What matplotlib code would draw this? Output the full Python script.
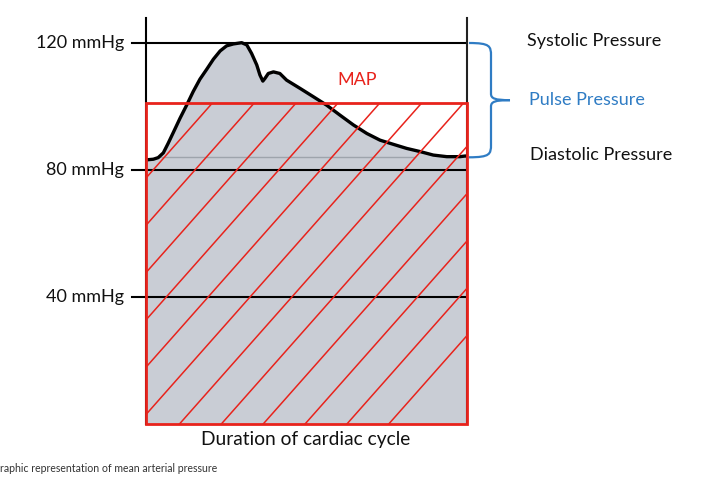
import numpy as np
import matplotlib
matplotlib.use("Agg")
import matplotlib.pyplot as plt
from matplotlib.patches import Rectangle, PathPatch
from matplotlib.path import Path

# ---- data ----
t_wave = [0.0, 0.002, 0.023, 0.038, 0.054, 0.069, 0.085, 0.106, 0.127, 0.147, 0.168,
          0.189, 0.210, 0.231, 0.251, 0.272, 0.298, 0.314, 0.329, 0.345, 0.355,
          0.364, 0.371, 0.381, 0.397, 0.417, 0.438, 0.480, 0.521, 0.563, 0.604,
          0.646, 0.688, 0.729, 0.770, 0.812, 0.854, 0.895, 0.937, 0.978, 0.994, 1.0]
p_wave = [83.2, 83.2, 83.4, 83.9, 85.4, 88.4, 91.8, 96.3, 100.5, 104.7, 108.6,
          111.7, 114.9, 117.5, 119.1, 119.7, 120.1, 119.4, 116.7, 113.1, 109.9,
          108.0, 108.9, 110.4, 110.9, 110.4, 108.3, 105.7, 103.1, 100.4, 97.3,
          94.2, 91.5, 89.4, 88.1, 86.8, 85.8, 84.7, 84.2, 84.2, 84.4, 84.4]
map_value = 101.0
systolic = 120
diastolic = 84
tick_values = [120, 80, 40]
tick_labels = ["120 mmHg", "80 mmHg", "40 mmHg"]

W, H = 708, 478
fig = plt.figure(figsize=(W / 100, H / 100), dpi=100)
plt.rcParams['font.family'] = ['Lato', 'DejaVu Sans']

x0, x1, y0, ytop = 146, 467, 424, 18
ax = fig.add_axes([x0 / W, 1 - y0 / H, (x1 - x0) / W, (y0 - ytop) / H])
sc = (y0 - 43) / 120.0
ymax = (y0 - ytop) / sc
ax.set_xlim(0, 1)
ax.set_ylim(0, ymax)
ax.axis('off')

# gray area under waveform
ax.fill_between(t_wave, 0, p_wave, color='#c9cdd5', zorder=1, lw=0)
ax.plot([0.044, 0.838], [diastolic, diastolic], color='#9ea4ac', lw=1, zorder=2)

# horizontal reference lines
xl = -(x0 - 132) / (x1 - x0)
for v, lab in zip(tick_values, tick_labels):
    ax.plot([xl, 1], [v, v], color='black', lw=1.5, zorder=3, clip_on=False)
    ax.text(xl - 0.025, v, lab, ha='right', va='center', fontsize=13, color='#111111')

# vertical lines
ax.plot([0, 0], [0, ymax], color='black', lw=1.5, zorder=3, clip_on=False)
ax.plot([1, 1], [0, ymax], color='#222222', lw=1.5, zorder=3, clip_on=False)

# waveform
ax.plot(t_wave, p_wave, color='black', lw=2.4, zorder=5, solid_capstyle='round',
        solid_joinstyle='round')

# MAP rectangle with hatching
rect = Rectangle((0, 0), 1, map_value, fill=False, edgecolor='#e8231c', lw=2, zorder=6,
                 clip_on=False)
ax.add_patch(rect)
clip_rect = Rectangle((0, 0), 1, map_value, transform=ax.transData, fill=False, lw=0)
ax.add_patch(clip_rect)
tt = np.array([-0.5, 1.5])
for c in np.arange(343, 910, 47.3):
    pp = (y0 - c + 1.13 * x0 + 1.13 * (x1 - x0) * tt) / sc
    ln, = ax.plot(tt, pp, color='#e8231c', lw=1.1, zorder=6)
    ln.set_clip_path(clip_rect)
ax.text(0.658, 108.5, "MAP", color='#e8231c', ha='center', va='center', fontsize=13)

# brace
def px(x):
    return (x - x0) / (x1 - x0)
ymid = (systolic + diastolic) / 2
verts = [(px(469), systolic), (px(490), systolic), (px(491), systolic - 1), (px(491), systolic - 4),
         (px(491), ymid + 2), (px(491), ymid + 0.5), (px(495), ymid), (px(510), ymid),
         (px(495), ymid), (px(491), ymid - 0.5), (px(491), ymid - 2),
         (px(491), diastolic + 4), (px(491), diastolic + 1), (px(490), diastolic), (px(469), diastolic)]
codes = [Path.MOVETO, Path.CURVE4, Path.CURVE4, Path.CURVE4,
         Path.LINETO, Path.CURVE4, Path.CURVE4, Path.CURVE4,
         Path.CURVE4, Path.CURVE4, Path.CURVE4,
         Path.LINETO, Path.CURVE4, Path.CURVE4, Path.CURVE4]
ax.add_patch(PathPatch(Path(verts, codes), fill=False, edgecolor='#2f7cc4', lw=1.6,
                       clip_on=False, zorder=4))

# right side labels
def ftext(x, y, s, **kw):
    fig.text(x / W, 1 - y / H, s, va='center', **kw)

ftext(527, 41, "Systolic Pressure", fontsize=13, color='#111111')
ftext(529, 100, "Pulse Pressure", fontsize=13, color='#2f7cc4')
ftext(530, 155, "Diastolic Pressure", fontsize=13, color='#111111')
fig.text(306 / W, 1 - 440 / H, "Duration of cardiac cycle", ha='center', va='center',
         fontsize=13.8, color='#111111')
fig.text(0 / W, 1 - 468 / H, "raphic representation of mean arterial pressure", ha='left',
         va='center', fontsize=7.6, color='#333333')

fig.savefig("out.png", dpi=100)
